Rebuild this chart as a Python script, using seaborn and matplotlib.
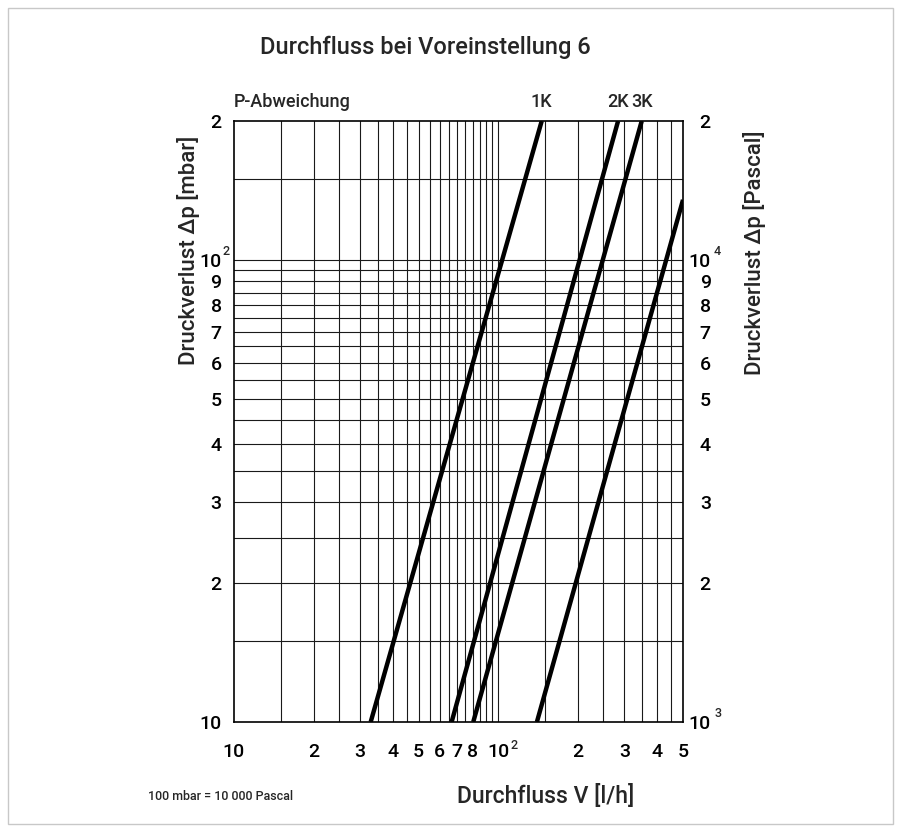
import numpy as np
import pandas as pd
import matplotlib
matplotlib.use("Agg")
import matplotlib.pyplot as plt
import matplotlib.transforms as mtransforms
from matplotlib.patches import Rectangle
import seaborn as sns

# Kennlinien: Durchfluss [l/h] und Druckverlust [mbar] an den Diagrammraendern
flow_1k = [32.9, 146.0]
dp_1k = [10, 200]
flow_2k = [66.6, 284.0]
dp_2k = [10, 200]
flow_3k = [80.4, 349.0]
dp_3k = [10, 200]
flow_4 = [140.0, 500.0]
dp_4 = [10, 135]
curve_names = ["1K", "2K", "3K", "4"]
curve_labels = ["1K", "2K", "3K", ""]

# Raster und Beschriftungen
x_grid = list(range(10, 101, 5)) + list(range(150, 501, 50))
y_grid = list(range(10, 101, 5)) + [150, 200]
x_ticks = [10, 20, 30, 40, 50, 60, 70, 80, 100, 200, 300, 400, 500]
x_ticklabels = ["10", "2", "3", "4", "5", "6", "7", "8", "10", "2", "3", "4", "5"]
y_ticks = [10, 20, 30, 40, 50, 60, 70, 80, 90, 100, 200]
y_left_labels = ["10", "2", "3", "4", "5", "6", "7", "8", "9", "10", "2"]
y_right_labels = ["10", "2", "3", "4", "5", "6", "7", "8", "9", "10", "2"]
# Exponenten an den Zehnerpotenzen
x_sup = {100: "2"}
y_left_sup = {100: "2"}
y_right_sup = {10: "3", 100: "4"}

rows = []
for name, fl, dp in zip(curve_names, [flow_1k, flow_2k, flow_3k, flow_4],
                        [dp_1k, dp_2k, dp_3k, dp_4]):
    for f, d in zip(fl, dp):
        rows.append({"Kennlinie": name, "Durchfluss": f, "Druckverlust": d})
df = pd.DataFrame(rows)

sns.set_theme(style="white")
plt.rcParams["font.family"] = ["Roboto", "DejaVu Sans"]
plt.rcParams["font.weight"] = "medium"

fig = plt.figure(figsize=(9.01, 8.32), dpi=100)
ax = fig.add_axes([234 / 901, 1 - 722 / 832, 449 / 901, 601 / 832])

sns.lineplot(data=df, x="Durchfluss", y="Druckverlust", hue="Kennlinie",
             palette=["black"] * 4, estimator=None, sort=False,
             linewidth=3.2, legend=False, ax=ax, zorder=5)
for l in ax.get_lines():
    l.set_solid_capstyle("butt")

ax.set_xscale("log")
ax.set_yscale("log")
ax.set_xlim(10, 500)
ax.set_ylim(10, 200)

for v in x_grid[1:-1]:
    ax.axvline(v, color="#1a1a1a", lw=0.8, zorder=1)
for v in y_grid[1:-1]:
    ax.axhline(v, color="#1a1a1a", lw=0.8, zorder=1)

ax.minorticks_off()
ax.set_xticks(x_ticks)
ax.set_xticklabels(x_ticklabels)
ax.set_yticks(y_ticks)
ax.set_yticklabels(y_left_labels)
ax.tick_params(axis="both", length=0, labelsize=14, colors="black")
ax.tick_params(axis="x", pad=15)
ax.tick_params(axis="y", pad=9)
ax.set_xlabel("")
ax.set_ylabel("")
for s in ax.spines.values():
    s.set_color("black")
    s.set_linewidth(1.2)

ax2 = ax.twinx()
ax2.set_yscale("log")
ax2.set_ylim(10, 200)
ax2.minorticks_off()
ax2.set_yticks(y_ticks)
ax2.set_yticklabels(y_right_labels, ha="right")
ax2.tick_params(axis="y", length=0, labelsize=14, pad=20, colors="black")
for s in ax2.spines.values():
    s.set_visible(False)

# Exponenten
bx = mtransforms.blended_transform_factory(ax.transData, ax.transAxes)
by = mtransforms.blended_transform_factory(ax.transAxes, ax.transData)
for v, t in x_sup.items():
    ax.annotate(t, xy=(v, 0), xycoords=bx, xytext=(9, -17), textcoords="offset points",
                fontsize=9, ha="left", va="center")
for v, t in y_left_sup.items():
    ax.annotate(t, xy=(0, v), xycoords=by, xytext=(-6, 6), textcoords="offset points",
                fontsize=9, ha="center", va="center")
for v, t in y_right_sup.items():
    ax.annotate(t, xy=(1, v), xycoords=by, xytext=(25, 6), textcoords="offset points",
                fontsize=9, ha="center", va="center")

# Kennlinienbeschriftung oben
for name, fl, lab in zip(curve_names, [flow_1k, flow_2k, flow_3k, flow_4], curve_labels):
    if lab:
        ax.annotate(lab, xy=(fl[-1], 1), xycoords=bx, xytext=(0, 14),
                    textcoords="offset points", fontsize=13, ha="center", va="center")
ax.annotate("P-Abweichung", xy=(0, 1), xycoords="axes fraction", xytext=(0, 14),
            textcoords="offset points", fontsize=13, ha="left", va="center")

fig.text(425 / 901, 1 - 47 / 832, "Durchfluss bei Voreinstellung 6",
         fontsize=17, ha="center", va="center")
fig.text(546 / 901, 1 - 796 / 832, "Durchfluss V [l/h]", fontsize=16.5,
         ha="center", va="center")
fig.text(148 / 901, 1 - 796 / 832, "100 mbar = 10 000 Pascal", fontsize=9,
         ha="left", va="center")
fig.text(188 / 901, 1 - 250 / 832, "Druckverlust \u2206p [mbar]", fontsize=16,
         rotation=90, ha="center", va="center")
fig.text(755 / 901, 1 - 253 / 832, "Druckverlust \u2206p [Pascal]", fontsize=16,
         rotation=90, ha="center", va="center")

fig.patches.append(Rectangle((8 / 901, 8 / 832), 885 / 901, 816 / 832,
                             transform=fig.transFigure, fill=False,
                             edgecolor="#c8c8c8", linewidth=1.0))

fig.savefig("out.png", dpi=100)
